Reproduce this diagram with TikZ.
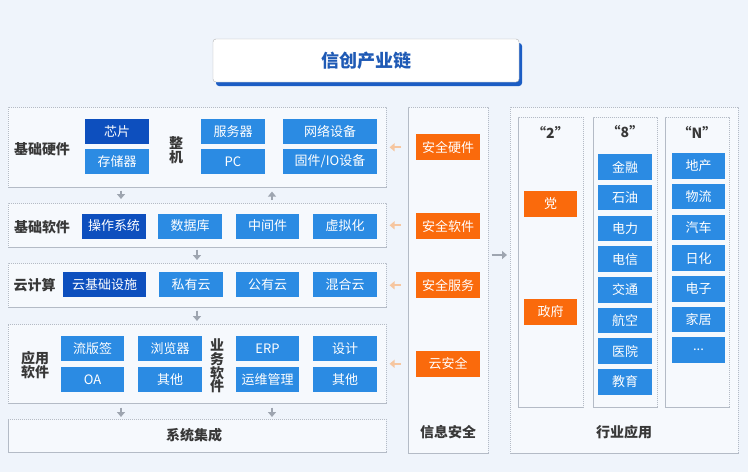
\documentclass[tikz,border=0pt]{standalone}
\usepackage{fontspec}
\setmainfont{Noto Sans CJK SC}
\usetikzlibrary{arrows.meta}
\definecolor{bg}{HTML}{EFF4FB}
\definecolor{pfill}{HTML}{F6F9FD}
\definecolor{pborder}{HTML}{B4BBC6}
\definecolor{bblue}{HTML}{2B8BE3}
\definecolor{dblue}{HTML}{0D4FBE}
\definecolor{orng}{HTML}{FA6A0C}
\definecolor{txt}{HTML}{383838}
\definecolor{tblue}{HTML}{1F5AB5}
\definecolor{shblue}{HTML}{1C5DC4}
\definecolor{garrow}{HTML}{9EA5B0}
\definecolor{oarrow}{HTML}{F6C6A0}
\begin{document}
\begin{tikzpicture}[x=1pt,y=-1pt,
  panel/.style={draw=pborder, dash pattern=on 1.2pt off 0.8pt, line width=0.6pt, fill=pfill, rectangle, inner sep=0pt, anchor=north west},
  bbox/.style={fill=bblue, text=white, font=\fontsize{13}{13}\selectfont, inner sep=0pt, minimum height=25pt, minimum width=64pt},
  dbox/.style={bbox, fill=dblue},
  obox/.style={bbox, fill=orng, minimum height=26pt},
  lbl/.style={text=txt, font=\fontsize{14}{14}\bfseries\selectfont, inner sep=0pt},
  vlbl/.style={lbl, align=center, font=\fontsize{14}{14.5}\bfseries\selectfont},
  garr/.style={draw=garrow, line width=1.8pt, -{Triangle[length=5pt,width=8pt]}},
  oarr/.style={draw=oarrow, line width=1.8pt, -{Triangle[length=5pt,width=8pt]}}
]
\useasboundingbox (0,0) rectangle (748,472);
\fill[bg] (0,0) rectangle (748,472);

% title
\fill[shblue, rounded corners=3pt] (216,43) rectangle (522,86);
\node[draw=gray!60, fill=white, rounded corners=3pt, minimum width=306pt, minimum height=43pt, inner sep=0pt,
  text=tblue, font=\fontsize{18}{18}\bfseries\selectfont] (title) at (366,60.5) {信创产业链};

% left panels
\node[panel, minimum width=378pt, minimum height=80pt] (p1) at (8,107) {};
\node[panel, minimum width=378pt, minimum height=44pt] (p2) at (8,203) {};
\node[panel, minimum width=378pt, minimum height=44pt] (p3) at (8,263) {};
\node[panel, minimum width=378pt, minimum height=79pt] (p4) at (8,324) {};
\node[panel, minimum width=378pt, minimum height=33pt] (p5) at (8,419) {};
% info column
\node[panel, minimum width=80pt, minimum height=346pt] (info) at (408,107) {};
% industry column
\node[panel, minimum width=228pt, minimum height=346pt] (ind) at (510,107) {};
\node[panel, minimum width=65pt, minimum height=290pt] (c2) at (518,117) {};
\node[panel, minimum width=64pt, minimum height=290pt] (c8) at (593,117) {};
\node[panel, minimum width=64pt, minimum height=290pt] (cN) at (665,117) {};

% panel 1
\node[lbl] (l1) at (42,149) {基础硬件};
\node[dbox] (chip) at (117,131.5) {芯片};
\node[bbox] (stor) at (117,161.5) {存储器};
\node[vlbl] (zj) at (176,150) {整\\机};
\node[bbox] (serv) at (233,131.5) {服务器};
\node[bbox] (pc) at (233,161.5) {PC};
\node[bbox, minimum width=94pt] (net) at (330,131.5) {网络设备};
\node[bbox, minimum width=94pt] (fw) at (330,161.5) {固件/IO设备};

% panel 2
\node[lbl] (l2) at (42,227) {基础软件};
\node[dbox] (os) at (114,226) {操作系统};
\node[bbox] (db) at (190,226) {数据库};
\node[bbox, minimum width=63pt] (mw) at (267.5,226) {中间件};
\node[bbox] (virt) at (345,226) {虚拟化};

% panel 3
\node[lbl] (l3) at (34.5,285) {云计算};
\node[dbox, minimum width=83pt] (ci) at (104.5,284.5) {云基础设施};
\node[bbox] (priv) at (191,284.5) {私有云};
\node[bbox, minimum width=63pt] (pub) at (267.5,284.5) {公有云};
\node[bbox] (hyb) at (345,284.5) {混合云};

% panel 4
\node[vlbl] (l4) at (35,365) {应用\\软件};
\node[bbox, minimum width=63pt] (lbq) at (92.5,348.5) {流版签};
\node[bbox, minimum width=63pt] (oa) at (92.5,379.5) {OA};
\node[bbox] (brw) at (170,348.5) {浏览器};
\node[bbox] (oth1) at (170,379.5) {其他};
\node[vlbl, font=\fontsize{14}{13.8}\bfseries\selectfont] (yw) at (217,366) {业\\务\\软\\件};
\node[bbox, minimum width=63pt] (erp) at (267.5,348.5) {ERP};
\node[bbox, minimum width=63pt] (ops) at (267.5,379.5) {运维管理};
\node[bbox] (des) at (345,348.5) {设计};
\node[bbox] (oth2) at (345,379.5) {其他};

% panel 5
\node[lbl] (l5) at (194,435) {系统集成};

% info security
\node[obox] (s1) at (448,147) {安全硬件};
\node[obox] (s2) at (448,226) {安全软件};
\node[obox] (s3) at (448,285) {安全服务};
\node[obox] (s4) at (448,364) {云安全};
\node[lbl] (li) at (448,432) {信息安全};

% industry
\node[lbl] (h2) at (550.5,132) {“2”};
\node[lbl] (h8) at (625,132) {“8”};
\node[lbl] (hN) at (697,132) {“N”};
\node[obox, minimum width=53pt] (dang) at (550.5,204) {党};
\node[obox, minimum width=53pt] (zf) at (550.5,312) {政府};
\node[bbox, minimum width=54pt, minimum height=25.5pt] (e0) at (625,167) {金融};
\node[bbox, minimum width=54pt, minimum height=25.5pt] (e1) at (625,197.7) {石油};
\node[bbox, minimum width=54pt, minimum height=25.5pt] (e2) at (625,228.4) {电力};
\node[bbox, minimum width=54pt, minimum height=25.5pt] (e3) at (625,259.1) {电信};
\node[bbox, minimum width=54pt, minimum height=25.5pt] (e4) at (625,289.8) {交通};
\node[bbox, minimum width=54pt, minimum height=25.5pt] (e5) at (625,320.5) {航空};
\node[bbox, minimum width=54pt, minimum height=25.5pt] (e6) at (625,351.2) {医院};
\node[bbox, minimum width=54pt, minimum height=25.5pt] (e7) at (625,381.9) {教育};
\node[bbox, minimum width=53pt, minimum height=25.5pt] (n0) at (698.5,166) {地产};
\node[bbox, minimum width=53pt, minimum height=25.5pt] (n1) at (698.5,196.7) {物流};
\node[bbox, minimum width=53pt, minimum height=25.5pt] (n2) at (698.5,227.4) {汽车};
\node[bbox, minimum width=53pt, minimum height=25.5pt] (n3) at (698.5,258.1) {日化};
\node[bbox, minimum width=53pt, minimum height=25.5pt] (n4) at (698.5,288.8) {电子};
\node[bbox, minimum width=53pt, minimum height=25.5pt] (n5) at (698.5,319.5) {家居};
\node[bbox, minimum width=53pt, minimum height=25.5pt] (n6) at (698.5,350.2) {...};
\node[lbl] (lind) at (624,432) {行业应用};

% gray arrows
\draw[garr, shorten <=3pt, shorten >=4pt] ([xshift=113pt]p1.south west) -- ([xshift=113pt]p2.north west);
\draw[garr, shorten <=3pt, shorten >=4pt] ([xshift=264pt]p2.north west) -- ([xshift=264pt]p1.south west);
\draw[garr, shorten <=2pt, shorten >=3pt] ([xshift=189pt]p2.south west) -- ([xshift=189pt]p3.north west);
\draw[garr, shorten <=3pt, shorten >=3pt] ([xshift=189pt]p3.south west) -- ([xshift=189pt]p4.north west);
\draw[garr, shorten <=4pt, shorten >=2pt] ([xshift=113pt]p4.south west) -- ([xshift=113pt]p5.north west);
\draw[garr, shorten <=4pt, shorten >=2pt] ([xshift=264pt]p4.south west) -- ([xshift=264pt]p5.north west);
\coordinate (m) at (500,255);
\draw[garr, shorten <=3pt, shorten >=3pt] (info.east |- m) -- (ind.west |- m);

% orange arrows
\draw[oarr, shorten <=7pt, shorten >=3pt] (info.west |- p1.east) -- (p1.east);
\draw[oarr, shorten <=7pt, shorten >=3pt] (info.west |- p2.east) -- (p2.east);
\draw[oarr, shorten <=7pt, shorten >=3pt] (info.west |- p3.east) -- (p3.east);
\draw[oarr, shorten <=7pt, shorten >=3pt] (info.west |- p4.east) -- (p4.east);
\end{tikzpicture}
\end{document}
